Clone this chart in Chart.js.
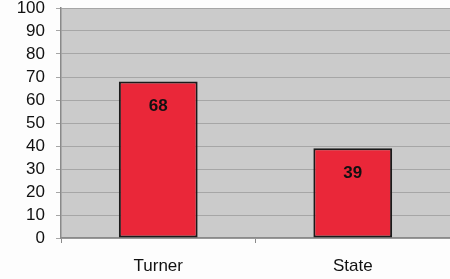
<!DOCTYPE html>
<html lang="en">
<head>
    <meta charset="UTF-8">
    <title>Turner vs State</title>
    <script src="https://cdn.jsdelivr.net/npm/chart.js"></script>
    <style>
        html, body {
            margin: 0;
            padding: 0;
            background: #fdfdfd;
        }

        div {
            width: 450px;
            height: 279px;
        }
    </style>
</head>
<body>
    <div>
        <canvas id="scoreChart"></canvas>
    </div>

    <script>
        const categories = ['Turner', 'State'];
        const scores = [68, 39];
        const yTicks = [0, 10, 20, 30, 40, 50, 60, 70, 80, 90, 100];

        const fontFamily = '"Liberation Sans", Arial, Helvetica, sans-serif';

        // grey panel behind the bars
        const plotBackground = {
            id: 'plotBackground',
            beforeDraw(chart) {
                const { ctx, chartArea } = chart;
                ctx.save();
                ctx.fillStyle = '#cbcbcb';
                ctx.fillRect(chartArea.left, chartArea.top, chartArea.right - chartArea.left, chartArea.bottom - chartArea.top);
                ctx.restore();
            }
        };

        // value written inside each bar, near its top
        const barLabels = {
            id: 'barLabels',
            afterDatasetsDraw(chart) {
                const { ctx } = chart;
                const meta = chart.getDatasetMeta(0);
                ctx.save();
                ctx.font = 'bold 17px ' + fontFamily;
                ctx.fillStyle = '#111';
                ctx.textAlign = 'center';
                ctx.textBaseline = 'middle';
                meta.data.forEach((bar, i) => {
                    ctx.fillText(chart.data.datasets[0].data[i], bar.x, bar.y + 25);
                });
                ctx.restore();
            }
        };

        const ctx = document.getElementById('scoreChart').getContext('2d');
        const scoreChart = new Chart(ctx, {
            type: 'bar',
            data: {
                labels: categories,
                datasets: [
                    {
                        data: scores,
                        backgroundColor: '#ea2739',
                        borderColor: '#1a1a1a',
                        borderWidth: 2,
                        borderSkipped: false,
                        categoryPercentage: 1.0,
                        barPercentage: 0.405
                    }
                ]
            },
            options: {
                responsive: true,
                maintainAspectRatio: false,
                animation: false,
                layout: {
                    padding: { top: 0, right: 0, bottom: 0, left: 0 }
                },
                plugins: {
                    legend: { display: false },
                    title: { display: false },
                    tooltip: { enabled: false }
                },
                scales: {
                    x: {
                        offset: true,
                        afterFit: scale => {
                            scale.height = 41;
                        },
                        grid: {
                            offset: true,
                            drawOnChartArea: false,
                            drawTicks: true,
                            tickLength: 5,
                            color: '#8a8a8a'
                        },
                        border: { color: '#8a8a8a', width: 1.5 },
                        ticks: {
                            color: '#111',
                            padding: 13,
                            maxRotation: 0,
                            font: { family: fontFamily, size: 17 }
                        }
                    },
                    y: {
                        min: 0,
                        max: 100,
                        afterBuildTicks: scale => {
                            scale.ticks = yTicks.map(v => ({ value: v }));
                        },
                        afterFit: scale => {
                            scale.width = 61;
                            scale.paddingTop = 8;
                            scale.paddingBottom = 0;
                        },
                        grid: {
                            color: '#a6a6a6',
                            lineWidth: 1,
                            tickLength: 5
                        },
                        border: { color: '#8a8a8a', width: 1.5 },
                        ticks: {
                            color: '#111',
                            padding: 11,
                            autoSkip: false,
                            font: { family: fontFamily, size: 17 }
                        }
                    }
                }
            },
            plugins: [plotBackground, barLabels]
        });
    </script>
</body>
</html>
